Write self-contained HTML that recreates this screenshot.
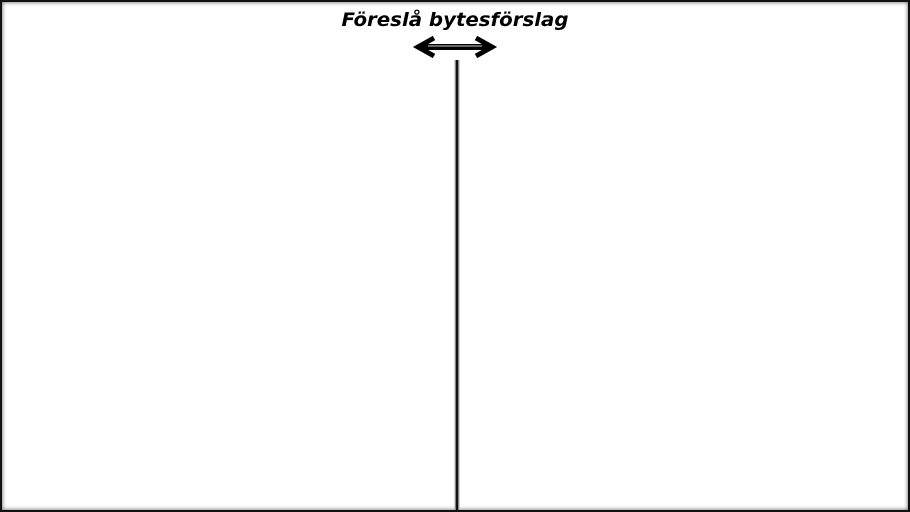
<!DOCTYPE html>
<html><head><meta charset="utf-8"><style>
html,body{margin:0;padding:0;background:#fff;}
#frame{position:relative;width:910px;height:512px;box-sizing:border-box;border:2px solid #111;box-shadow:inset 0 0 4px #555;overflow:hidden;}
</style></head><body>
<div id="frame">
<svg width="910" height="512" style="position:absolute;left:-2px;top:-2px">
<text x="455" y="26" text-anchor="middle" font-family="DejaVu Sans, Liberation Sans, sans-serif" font-weight="bold" font-style="italic" font-size="19" textLength="227" lengthAdjust="spacingAndGlyphs" fill="#000">Föreslå bytesförslag</text>
<g stroke="#000" fill="none" stroke-width="5" stroke-linecap="butt">
<line x1="420" y1="47" x2="490" y2="47" stroke-width="6"/>
<line x1="428" y1="46" x2="482" y2="46" stroke="#888" stroke-width="1.5"/>
<polyline points="434,38 418,47 434,56"/>
<polyline points="476,38 492,47 476,56"/>
</g>
<line x1="457" y1="60" x2="457" y2="514" stroke="#aaa" stroke-width="5"/>
<line x1="457" y1="60" x2="457" y2="514" stroke="#111" stroke-width="2.5"/>
</svg>
</div>
</body></html>
